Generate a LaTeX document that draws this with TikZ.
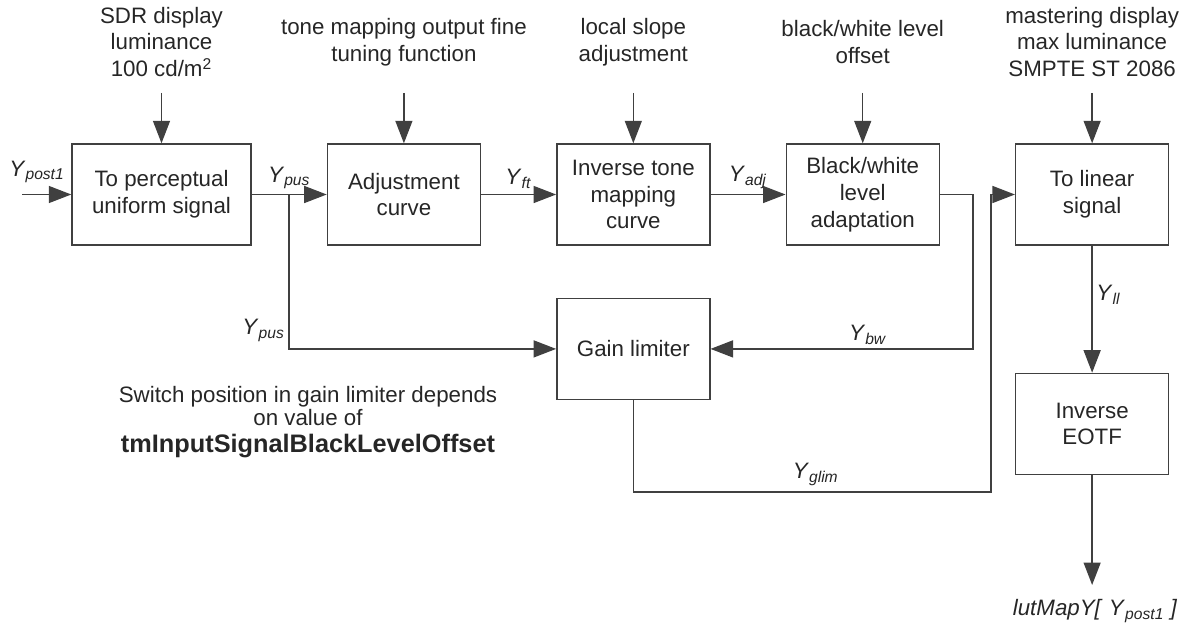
\documentclass[tikz,border=0pt]{standalone}
\usepackage{fontspec}
\setmainfont{Liberation Sans}
\usetikzlibrary{positioning}
\usetikzlibrary{arrows.meta}
\tikzset{
        treetext/.style={text=black!85, font=\fontsize{12.7pt}{15.3pt}\selectfont},
        % Processing blocks
        node_block/.style={treetext, rectangle, draw=black!75, line width=0.8pt, align=center, inner sep=0pt, minimum width=3.06cm, minimum height=2.02cm},
        % Parameter texts above the blocks
        node_param/.style={treetext, align=center, inner sep=0pt},
        % Signal names beside the lines
        node_signal/.style={treetext, inner sep=2pt},
        % Signal lines
        line_signal/.style={draw=black!75, line width=0.8pt}
}
\newcommand{\sig}[1]{\textit{Y}\textsubscript{\textit{#1}}}

\begin{document}
\begin{tikzpicture}[
            -{Triangle[length=0.45cm, width=0.34cm]},
            node distance=1.5cm
        ]
            \useasboundingbox (0,0) rectangle (23.62,-12.56);
            % Upper row of blocks
            \node[node_block, minimum width=3.58cm] (pus) at (3.23,-3.89) {To perceptual\\uniform signal};
            \node[node_block, right=of pus] (adj) {Adjustment\\curve};
            \node[node_block, right=of adj] (itm) {Inverse tone\\mapping\\curve};
            \node[node_block, right=of itm] (bwl) {Black/white\\level\\adaptation};
            \node[node_block, right=of bwl] (lin) {To linear\\signal};
            % Lower blocks
            \node[node_block, below=1.04cm of itm] (glim) {Gain limiter};
            \node[node_block, below=2.54cm of lin] (eotf) {Inverse\\EOTF};

            % Parameters
            \coordinate (toprow) at (0,-0.84);
            \coordinate (inrow) at (0,-1.86);
            \node[node_param] (sdr) at (pus |- toprow) {SDR display\\luminance\\100 cd/m\textsuperscript{2}};
            \node[node_param] (fine) at (adj |- toprow) {tone mapping output fine\\tuning function};
            \node[node_param] (slope) at (itm |- toprow) {local slope\\adjustment};
            \node[node_param] (offset) at (bwl |- toprow) {black/white level\\offset};
            \node[node_param] (master) at (lin |- toprow) {mastering display\\max luminance\\SMPTE ST 2086};
            \draw[line_signal] (pus |- inrow) -- (pus);
            \draw[line_signal] (adj |- inrow) -- (adj);
            \draw[line_signal] (itm |- inrow) -- (itm);
            \draw[line_signal] (bwl |- inrow) -- (bwl);
            \draw[line_signal] (lin |- inrow) -- (lin);

            % Signal path
            \coordinate (input) at (0.44,-3.89);
            \coordinate (split) at (5.78,-3.89);
            \coordinate (bwturn) at (19.46,-3.89);
            \coordinate (glturn) at (19.82,-9.84);
            \coordinate (output) at (21.76,-11.7);
            \node[node_signal] (ypost) at (0.74,-3.44) {\sig{post1}};
            \draw[line_signal] (input) -- (pus);
            \draw[line_signal] (pus) -- node[node_signal, above=1pt] (ypus) {\sig{pus}} (adj);
            \draw[line_signal] (adj) -- node[node_signal, above=1pt] (yft) {\sig{ft}} (itm);
            \draw[line_signal] (itm) -- node[node_signal, above=1pt] (yadj) {\sig{adj}} (bwl);
            \draw[line_signal] (split) |- node[node_signal, left, pos=0.44] (ypusb) {\sig{pus}} (glim);
            \draw[line_signal] (bwl) -- (bwturn) |- node[node_signal, above, pos=0.7] (ybw) {\sig{bw}} (glim);
            \draw[line_signal] (glim) |- node[node_signal, above=1pt, pos=0.755] (yglim) {\sig{glim}} (glturn) |- (lin);
            \draw[line_signal] (lin) -- node[node_signal, right, pos=0.39] (yll) {\sig{ll}} (eotf);
            \draw[line_signal] (eotf) -- (eotf |- output);
            \node[node_signal] (lut) at (21.9,-12.22) {\textit{lutMapY[ }\sig{post1}\textit{ ]}};

            % Note on the gain limiter
            \node[node_param, font=\fontsize{12.7pt}{13.6pt}\selectfont] (note) at (6.16,-8.12) {Switch position in gain limiter depends\\on value of};
            \node[node_param, font=\bfseries\fontsize{14.4pt}{17pt}\selectfont] (key) at (6.16,-8.92) {tmInputSignalBlackLevelOffset};
        \end{tikzpicture}
\end{document}
